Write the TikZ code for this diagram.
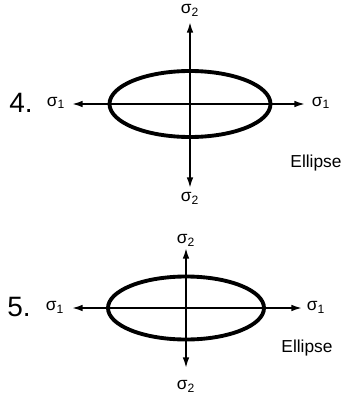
\documentclass[tikz,border=0pt]{standalone}
\usepackage{fontspec}
\setmainfont{Liberation Sans}
\usetikzlibrary{arrows.meta,positioning}

\tikzset{
  axis/.style={line width=1.3pt,-{Latex[length=8pt,width=5pt]}},
  oval/.style={line width=2.9pt},
  lbl/.style={inner sep=0pt,font=\fontsize{13}{15}\selectfont},
  num/.style={inner sep=0pt,font=\fontsize{21}{23}\selectfont}
}

\begin{document}
\begin{tikzpicture}[x=0.75pt,y=-0.75pt]
    \useasboundingbox (0,0) rectangle (357,396);

    % Case 4
    \coordinate (c4) at (190,104);
    \coordinate (l4) at (72,104);
    \coordinate (r4) at (305,104);
    \coordinate (t4) at (190,22);
    \coordinate (b4) at (190,188);
    \draw[oval] (c4) ellipse [x radius=80.5, y radius=33];
    \draw[axis] (c4) -- (l4);
    \draw[axis] (c4) -- (r4);
    \draw[axis] (c4) -- (t4);
    \draw[axis] (c4) -- (b4);
    \node[num] (n4) at (21,103) {4.};
    \node[lbl] (s1l4) at (56,103) {σ\textsubscript{1}};
    \node[lbl] (s1r4) at (321,103) {σ\textsubscript{1}};
    \node[lbl] (s2t4) at (190,10) {σ\textsubscript{2}};
    \node[lbl] (s2b4) at (190,198) {σ\textsubscript{2}};
    \node[lbl] (e4) at (316,163) {Ellipse};

    % Case 5
    \coordinate (c5) at (186,308);
    \coordinate (l5) at (72,308);
    \coordinate (r5) at (302,308);
    \coordinate (t5) at (186,248);
    \coordinate (b5) at (186,368);
    \draw[oval] (c5) ellipse [x radius=78, y radius=31.5];
    \draw[axis] (c5) -- (l5);
    \draw[axis] (c5) -- (r5);
    \draw[axis] (c5) -- (t5);
    \draw[axis] (c5) -- (b5);
    \node[num] (n5) at (19,307) {5.};
    \node[lbl] (s1l5) at (55,307) {σ\textsubscript{1}};
    \node[lbl] (s1r5) at (316,307) {σ\textsubscript{1}};
    \node[lbl] (s2t5) at (186,240) {σ\textsubscript{2}};
    \node[lbl] (s2b5) at (186,386) {σ\textsubscript{2}};
    \node[lbl] (e5) at (307,348) {Ellipse};
\end{tikzpicture}
\end{document}
